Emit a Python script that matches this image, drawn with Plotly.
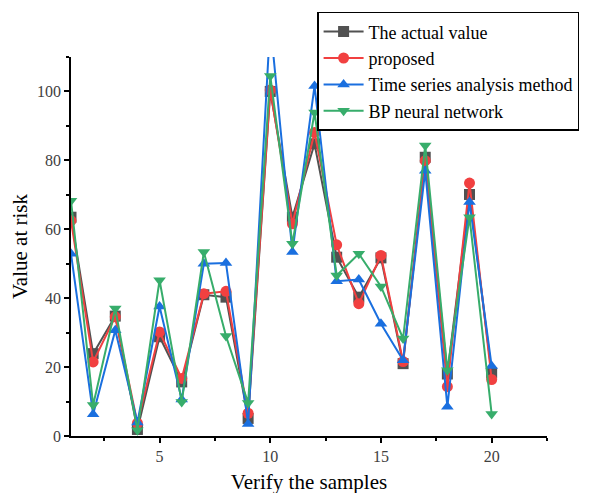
import plotly.graph_objects as go

samples = list(range(1, 21))
actual = [63.5, 23.9, 34.8, 1.9, 28.8, 15.7, 41.0, 40.3, 5.1, 100.0,
          63.5, 84.8, 51.9, 40.3, 51.7, 21.0, 80.9, 18.0, 70.1, 18.3]
proposed = [62.5, 21.5, 34.6, 3.7, 30.2, 16.7, 41.3, 42.0, 6.6, 100.4,
            61.6, 88.1, 55.5, 38.4, 52.4, 21.6, 79.9, 14.3, 73.4, 16.4]
time_series = [52.9, 6.3, 30.7, 3.9, 37.6, 10.6, 50.0, 50.2, 3.5, 120.0,
               53.4, 101.6, 44.9, 45.4, 32.6, 22.0, 77.0, 8.5, 67.9, 20.3]
bp_network = [68.3, 9.0, 37.0, 1.7, 45.2, 9.9, 53.4, 29.0, 9.6, 104.5,
              55.8, 93.9, 46.6, 52.9, 43.4, 28.3, 84.3, 19.1, 63.5, 6.4]

series = [
    ("The actual value", actual, "#515151", "square"),
    ("proposed", proposed, "#F14040", "circle"),
    ("Time series analysis method", time_series, "#1A6FDF", "triangle-up"),
    ("BP neural network", bp_network, "#37AD6B", "triangle-down"),
]

fig = go.Figure()
for name, vals, color, sym in series:
    fig.add_trace(go.Scatter(
        x=samples, y=vals, name=name, mode="lines+markers",
        line=dict(color=color, width=2),
        marker=dict(color=color, symbol=sym, size=11),
    ))

font = "Liberation Serif, Times New Roman, serif"
fig.update_layout(
    width=596, height=493,
    margin=dict(l=63, r=57, t=49, b=65, autoexpand=False),
    paper_bgcolor="white", plot_bgcolor="white",
    font=dict(family=font, color="#404040", size=16),
    showlegend=True,
    legend=dict(
        x=0.517, y=1.119, xanchor="left", yanchor="top",
        bordercolor="black", borderwidth=1.5, bgcolor="white",
        font=dict(family=font, size=18, color="black"),
        tracegroupgap=0, itemwidth=40,
    ),
)
fig.update_xaxes(
    range=[1, 22.5], showgrid=False, zeroline=False,
    showline=True, linecolor="black", linewidth=1.5,
    ticks="outside", ticklen=5, tickwidth=1.5, tickcolor="black",
    tickvals=[5, 10, 15, 20],
    minor=dict(tickvals=[2.5, 7.5, 12.5, 17.5, 22.5], ticks="outside", ticklen=3, tickwidth=1.5, tickcolor="black"),
    tickfont=dict(size=16, color="#404040", family=font),
    title=dict(text="Verify the samples", font=dict(size=21, color="black", family=font), standoff=10),
)
fig.update_yaxes(
    range=[0, 110], showgrid=False, zeroline=False,
    showline=True, linecolor="black", linewidth=1.5,
    ticks="outside", ticklen=5, tickwidth=1.5, tickcolor="black",
    tickvals=[0, 20, 40, 60, 80, 100],
    minor=dict(tickvals=[10, 30, 50, 70, 90, 110], ticks="outside", ticklen=3, tickwidth=1.5, tickcolor="black"),
    tickfont=dict(size=16, color="#404040", family=font),
    title=dict(text="Value at risk", font=dict(size=21, color="black", family=font), standoff=8),
)

fig.write_html("out.html")
